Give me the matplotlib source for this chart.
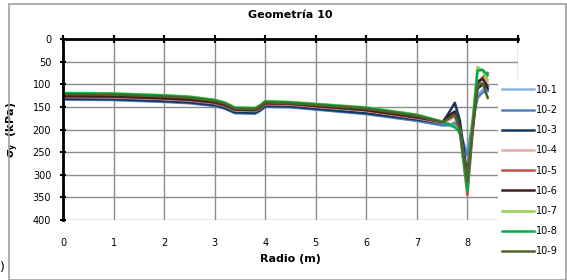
"""
Geometria 10 - vertical stress along the radius
"""

import matplotlib
matplotlib.use("Agg")
import matplotlib.pyplot as plt
from matplotlib.patches import Rectangle

plt.rcParams['font.family'] = ['Liberation Sans Narrow', 'DejaVu Sans']

# radius (m)
radio = [0, 1, 2, 2.5, 3, 3.2, 3.4, 3.8, 3.9, 4.0, 4.5, 5, 6, 7, 7.5,
         7.65, 7.75, 7.85, 8.0, 8.1, 8.2, 8.3, 8.4]

# sigma_y (kPa), one list per model
s10_1 = [133, 134, 138, 141, 147, 153, 163, 164, 158, 149, 150, 155, 165, 180, 190,
         192, 195, 205, 250, 180, 125, 112, 113]
s10_2 = [134, 135, 139, 142, 148, 154, 164, 165, 159, 150, 151, 156, 166, 181, 191,
         190, 185, 210, 258, 185, 130, 118, 115]
s10_3 = [132, 133, 137, 140, 146, 152, 162, 163, 157, 148, 149, 154, 164, 178, 186,
         160, 141, 180, 305, 200, 110, 100, 110]
s10_4 = [128, 129, 133, 136, 142, 148, 158, 159, 153, 144, 145, 150, 159, 175, 185,
         178, 172, 200, 320, 200, 95, 85, 95]
s10_5 = [127, 128, 132, 135, 141, 147, 157, 158, 152, 143, 144, 149, 158, 174, 184,
         172, 165, 205, 345, 210, 100, 85, 75]
s10_6 = [126, 127, 131, 134, 140, 146, 156, 157, 151, 142, 143, 148, 157, 173, 183,
         168, 160, 200, 310, 200, 95, 88, 105]
s10_7 = [119, 120, 124, 127, 134, 140, 151, 152, 146, 137, 139, 143, 151, 167, 182,
         188, 193, 200, 325, 180, 62, 70, 90]
s10_8 = [120, 121, 125, 128, 135, 141, 152, 153, 147, 138, 140, 144, 152, 168, 183,
         189, 195, 205, 335, 190, 70, 68, 80]
s10_9 = [122, 123, 127, 130, 137, 143, 154, 155, 149, 140, 142, 146, 154, 170, 184,
         175, 168, 200, 315, 200, 100, 98, 130]

series = [s10_1, s10_2, s10_3, s10_4, s10_5, s10_6, s10_7, s10_8, s10_9]
labels = ['10-1', '10-2', '10-3', '10-4', '10-5', '10-6', '10-7', '10-8', '10-9']
colors = ['#8db3e2', '#4f81bd', '#17375e', '#e6a9a8', '#c0504d',
          '#3f1f1f', '#92d050', '#00b050', '#4f6228']

fig = plt.figure(figsize=(5.67, 2.8), dpi=100)
ax = fig.add_axes([63 / 567, 1 - 220 / 280, (518 - 63) / 567, (220 - 39) / 280])

for vals, lab, col in zip(series, labels, colors):
    ax.plot(radio, vals, color=col, linewidth=1.8, label=lab)

ax.set_xlim(0, 9)
ax.set_ylim(400, 0)
ax.set_xticks(range(0, 10))
ax.set_xticklabels([str(i) for i in range(0, 9)] + [''])
ax.set_yticks(range(0, 401, 50))

ax.grid(True, color='#8c8c8c', linewidth=1.0)
ax.set_axisbelow(True)

for side in ['bottom', 'right']:
    ax.spines[side].set_visible(False)
for side in ['top', 'left']:
    ax.spines[side].set_color('black')
    ax.spines[side].set_linewidth(2)

ax.tick_params(axis='x', top=True, bottom=False, labeltop=False, labelbottom=True,
               direction='inout', length=6, width=1.5, labelsize=7, pad=10)
ax.tick_params(axis='y', direction='inout', length=5, width=1.5, labelsize=7, pad=6)

ax.set_title('Geometría 10', fontsize=8, fontweight='bold', pad=15)
ax.set_xlabel('Radio (m)', fontsize=8, fontweight='bold', labelpad=4)
ax.set_ylabel(r'$\mathbf{\sigma_y}$  (kPa)', fontsize=8, fontweight='bold', labelpad=8)

leg = fig.legend(loc='upper left', bbox_to_anchor=(493 / 567, 1 - 76 / 280),
                 fontsize=7, frameon=True, handlelength=3.3, labelspacing=1.05,
                 borderpad=0.4, handletextpad=0.2)
leg.get_frame().set_facecolor('white')
leg.get_frame().set_edgecolor('none')
leg.get_frame().set_alpha(1)

# outer chart border
fig.patches.append(Rectangle((9 / 567, 0.0), 1 - 10 / 567, 1 - 4 / 280 - 0.0,
                             transform=fig.transFigure, fill=False,
                             edgecolor='#a0a0a0', linewidth=1.2))
fig.text(0.0, 12 / 280, ')', fontsize=9, ha='left', va='center')

plt.savefig('out.png', dpi=100)
plt.close(fig)
